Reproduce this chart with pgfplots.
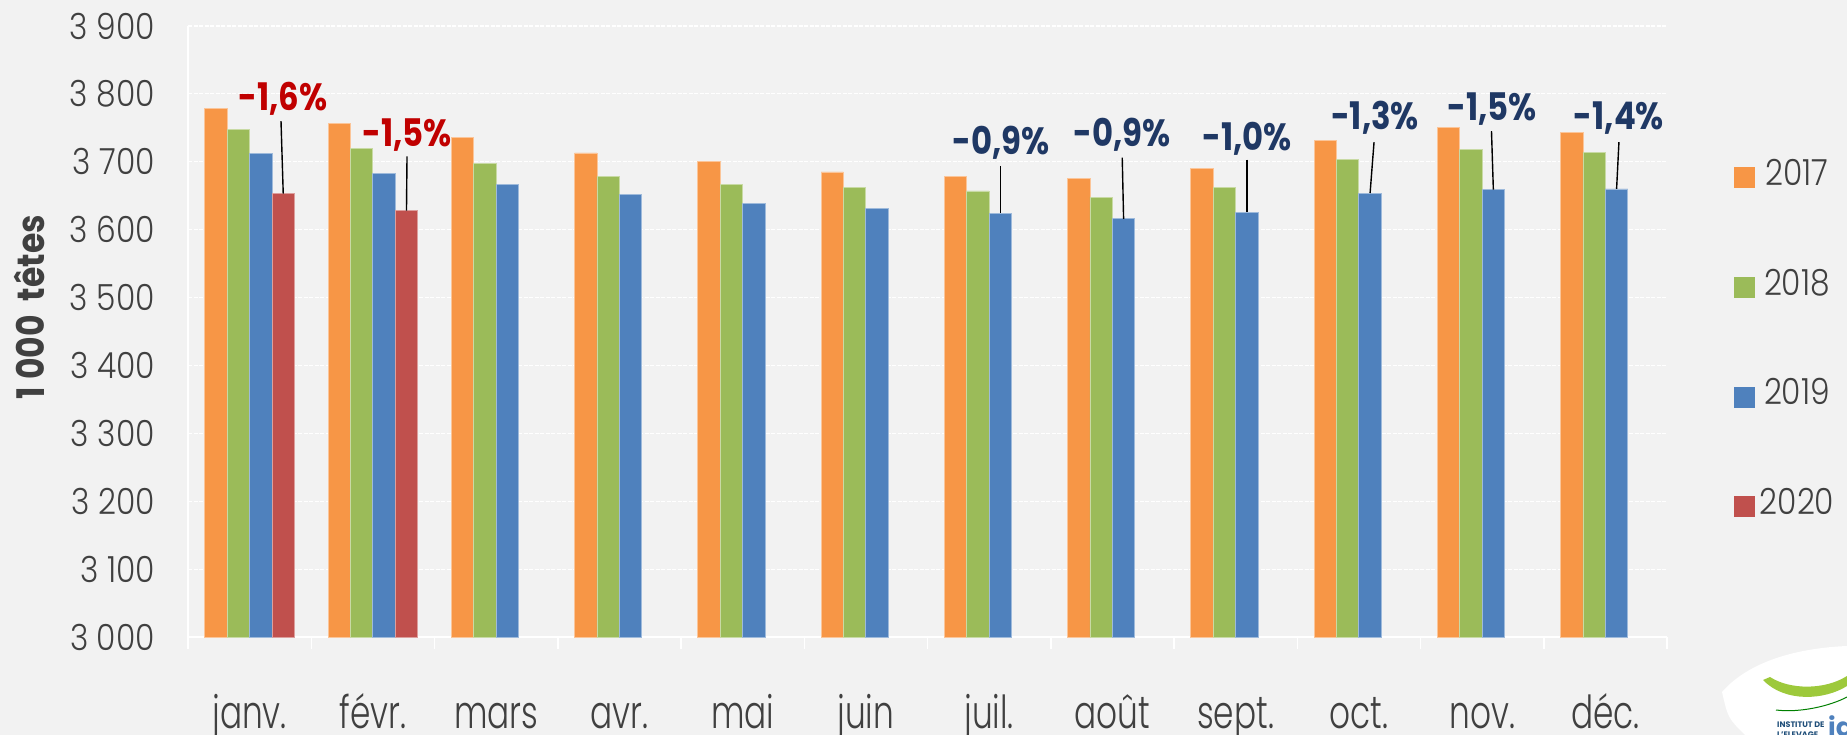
\documentclass[border=0pt]{standalone}
\usepackage{pgfplots}
\pgfplotsset{compat=1.18}
\usepackage{fontspec}
\setmainfont{Poppins}
\newfontfamily\tickf{Poppins}[FakeStretch=0.87, UprightFont={* Light}, BoldFont={* Bold}]
\newfontfamily\xlabf{Poppins}[FakeStretch=0.72, UprightFont={* Light}]
\newfontfamily\annf{Poppins}[FakeStretch=0.85]
\definecolor{bg}{HTML}{F2F2F2}
\definecolor{tick}{HTML}{404040}
\definecolor{c17}{HTML}{F79646}
\definecolor{c18}{HTML}{9BBB59}
\definecolor{c19}{HTML}{4F81BD}
\definecolor{c20}{HTML}{C0504D}
\definecolor{labred}{HTML}{C00000}
\definecolor{labblue}{HTML}{1F3864}
\definecolor{logoblue}{HTML}{1F4E79}
\definecolor{logogreen}{HTML}{9DC93B}
\pgfplotsset{mybar/.style={fill=#1, draw=#1!55!white, line width=0.8pt,
  legend image code/.code={\fill[#1] (0pt,-14.5pt) rectangle (20pt,5.5pt); \path (25pt,0pt);}}}
\tikzset{lab/.style={font=\annf\bfseries\fontsize{38}{40}\selectfont, anchor=base, inner sep=0pt}}
\begin{document}
\begin{tikzpicture}
\fill[bg] (0pt,0pt) rectangle (1847pt,-735pt);
\begin{axis}[
  at={(188pt,-637pt)}, anchor=south west,
  scale only axis, width=1479pt, height=611pt,
  xmin=-0.5, xmax=11.5, ymin=3000, ymax=3900,
  ybar=0pt, bar width=22.4pt,
  xtick={0,...,11},
  xticklabels={janv.,févr.,mars,avr.,mai,juin,juil.,août,sept.,oct.,nov.,déc.},
  minor xtick={-0.5,0.5,...,11.5},
  ytick={3000,3100,...,3900},
  yticklabels={3 000,3 100,3 200,3 300,3 400,3 500,3 600,3 700,3 800,3 900},
  axis lines*=left, axis line style={white,line width=1.5pt,-},
  ymajorgrids, grid style={white,line width=1.2pt,dash pattern=on 4pt off 1.5pt},
  major tick length=0pt, minor tick length=12pt, tick align=outside,
  minor x tick style={white,line width=1.5pt},
  major tick style={draw=none},
  xticklabel style={font=\xlabf\fontsize{45.5}{48}\selectfont, text=tick, anchor=base, yshift=-91pt, inner sep=0pt},
  yticklabel style={font=\tickf\fontsize{36}{40}\selectfont, text=tick, anchor=east, inner sep=0pt, xshift=-33pt},
  ylabel={1 000\ \ têtes},
  ylabel style={at={(axis description cs:-0.1075,0.54)}, anchor=center, font=\tickf\bfseries\fontsize{38}{40}\selectfont, text=tick},
  legend style={at={(1.0453,0.7823)}, anchor=north west, draw=none, fill=none, inner sep=0pt, outer sep=0pt,
    row sep=81pt, font=\tickf\fontsize{36}{40}\selectfont, text=tick, nodes={inner sep=0pt}},
]
\addplot[mybar=c17] coordinates {(0,3779) (1,3757) (2,3736) (3,3713) (4,3700) (5,3685) (6,3678) (7,3676) (8,3690) (9,3732) (10,3751) (11,3743)};
\addplot[mybar=c18] coordinates {(0,3748) (1,3719) (2,3698) (3,3678) (4,3666) (5,3662) (6,3657) (7,3648) (8,3662) (9,3704) (10,3718) (11,3714)};
\addplot[mybar=c19] coordinates {(0,3712) (1,3683) (2,3667) (3,3652) (4,3638) (5,3631) (6,3624) (7,3616) (8,3626) (9,3654) (10,3659) (11,3660)};
\addplot[mybar=c20] coordinates {(0,3653) (1,3628)};
\legend{2017,2018,2019,2020}
% annotations
\node[lab, text=labred] at (axis cs:0.271,3776) {-1,6\%};
\node[lab, text=labred] at (axis cs:1.277,3722) {-1,5\%};
\node[lab, text=labblue] at (axis cs:6.096,3710) {-0,9\%};
\node[lab, text=labblue] at (axis cs:7.078,3722) {-0,9\%};
\node[lab, text=labblue] at (axis cs:8.092,3717) {-1,0\%};
\node[lab, text=labblue] at (axis cs:9.131,3747) {-1,3\%};
\node[lab, text=labblue] at (axis cs:10.080,3761) {-1,5\%};
\node[lab, text=labblue] at (axis cs:11.110,3747) {-1,4\%};
\draw[black, line width=1.4pt] (axis cs:0.2546,3760) -- (axis cs:0.2727,3653);
\draw[black, line width=1.4pt] (axis cs:1.277,3708) -- (axis cs:1.2727,3628);
\draw[black, line width=1.4pt] (axis cs:6.091,3694) -- (axis cs:6.091,3624);
\draw[black, line width=1.4pt] (axis cs:7.080,3706) -- (axis cs:7.091,3616);
\draw[black, line width=1.4pt] (axis cs:8.091,3703) -- (axis cs:8.091,3626);
\draw[black, line width=1.4pt] (axis cs:9.123,3729) -- (axis cs:9.091,3654);
\draw[black, line width=1.4pt] (axis cs:10.076,3745) -- (axis cs:10.091,3659);
\draw[black, line width=1.4pt] (axis cs:11.110,3729) -- (axis cs:11.091,3660);
\end{axis}
% logo (partially cut off)
\fill[white] (1722pt,-692pt) .. controls (1750pt,-660pt) and (1800pt,-648pt) .. (1847pt,-646pt) -- (1847pt,-735pt) -- (1745pt,-735pt) .. controls (1728pt,-718pt) .. (1722pt,-692pt) -- cycle;
\fill[logogreen] (1763pt,-680pt) .. controls (1785pt,-703pt) and (1825pt,-700pt) .. (1847pt,-686pt) -- (1847pt,-676pt) .. controls (1825pt,-690pt) and (1790pt,-690pt) .. (1770pt,-677pt) -- cycle;
\draw[green!50!black, line width=1pt] (1776pt,-710pt) .. controls (1800pt,-713pt) and (1830pt,-706pt) .. (1847pt,-697pt);
\node[anchor=base west, inner sep=0pt, text=logoblue, font=\bfseries\fontsize{8}{9}\selectfont] at (1777pt,-727pt) {INSTITUT DE};
\node[anchor=base west, inner sep=0pt, text=logoblue, font=\bfseries\fontsize{8}{9}\selectfont] at (1777pt,-737pt) {L'ELEVAGE};
\node[anchor=base west, inner sep=0pt, text=c19, font=\bfseries\fontsize{26}{28}\selectfont] at (1828pt,-736pt) {id};
\pgfresetboundingbox
\path[use as bounding box] (0pt,0pt) rectangle (1847pt,-735pt);
\end{tikzpicture}
\end{document}
